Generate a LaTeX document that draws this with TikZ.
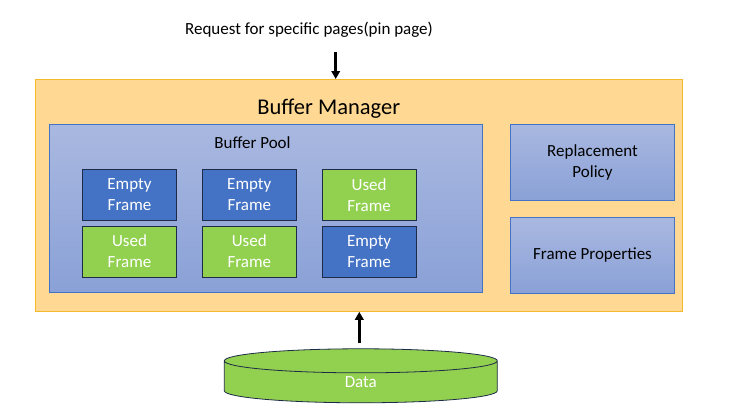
\documentclass[tikz,border=0pt]{standalone}
\usepackage{fontspec}
\setmainfont{Carlito}
\usetikzlibrary{arrows,arrows.meta,positioning,shapes.geometric}
\definecolor{mgrfill}{HTML}{FFD993}
\definecolor{mgrline}{HTML}{F4B92C}
\definecolor{pooltop}{HTML}{A9B8E0}
\definecolor{poolbot}{HTML}{8AA1D7}
\definecolor{poolline}{HTML}{4472C4}
\definecolor{emptyfill}{HTML}{4472C4}
\definecolor{usedfill}{HTML}{92D050}
\definecolor{frameline}{HTML}{1E2B48}
\tikzstyle{body}=[font=\fontsize{17pt}{21pt}\selectfont]
\tikzstyle{manager}=[draw=mgrline,fill=mgrfill,line width=0.8pt,minimum width=647pt,minimum height=232pt,inner sep=0pt]
\tikzstyle{pool}=[draw=poolline,top color=pooltop,bottom color=poolbot,line width=0.8pt,inner sep=0pt,align=center,body]
\tikzstyle{emptyframe}=[draw=frameline,fill=emptyfill,text=white,minimum width=94pt,minimum height=51pt,inner sep=0pt,align=center,line width=0.8pt,body]
\tikzstyle{usedframe}=[emptyframe,fill=usedfill]
\tikzstyle{disk}=[cylinder,shape border rotate=90,aspect=0.75,draw=frameline,fill=usedfill,text=white,line width=0.8pt,minimum width=273pt,minimum height=54pt,inner sep=0pt,body]

\begin{document}
\begin{tikzpicture}[x=1pt,y=-1pt,->,>={Triangle[length=8pt,width=8.5pt]},line width=2.5pt]
  \useasboundingbox (0,0) rectangle (745,416);

  \node[body]          (req)  at (309,30)   {Request for specific pages(pin page)};
  \coordinate          (pin)  at (335.7,51.7);
  \node[manager]       (mgr)  at (358.8,195.4) {};
  \node[font=\fontsize{22.5pt}{26pt}\selectfont] (title) at (328.7,109) {Buffer Manager};
  \node[pool,minimum width=433pt,minimum height=168pt] (pool) at (266,208.3) {};
  \node[body]          (poollabel) at (252.5,142.3) {Buffer Pool};

  \node[emptyframe]    (F11) at (129.5,194.8) {Empty\\Frame};
  \node[emptyframe]    (F12) [right=25pt of F11] {Empty\\Frame};
  \node[usedframe]     (F13) [right=25pt of F12] {Used\\Frame};
  \node[usedframe]     (F21) [below=5pt of F11] {Used\\Frame};
  \node[usedframe]     (F22) [below=5pt of F12] {Used\\Frame};
  \node[emptyframe]    (F23) [below=5pt of F13] {Empty\\Frame};

  \node[pool,minimum width=164pt,minimum height=76pt] (policy) at (592.5,162.3) {Replacement\\Policy};
  \node[pool,minimum width=164pt,minimum height=76pt] (props) [below=16pt of policy] {Frame Properties};

  \node[disk]          (db)   at (360.8,382) {Data};
  \coordinate          (dbtop) at ([xshift=-1.5pt,yshift=5pt]db.north);

  \path (pin) edge (pin |- mgr.north)
        (dbtop) edge (dbtop |- mgr.south);
\end{tikzpicture}
\end{document}
